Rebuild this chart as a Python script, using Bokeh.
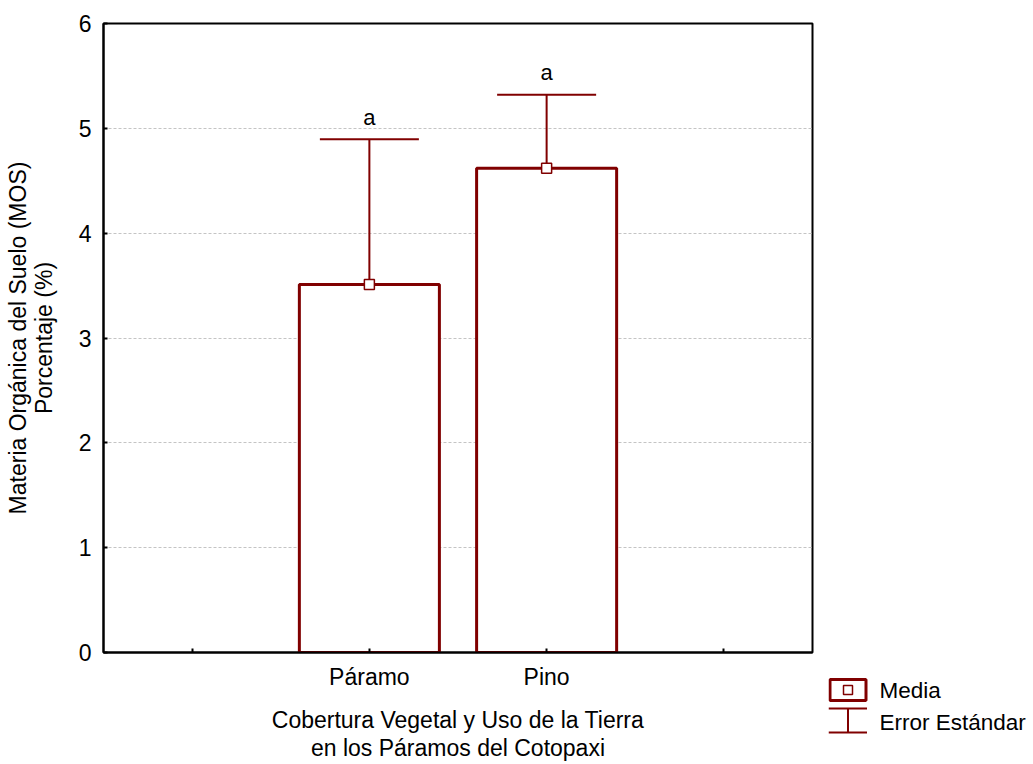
from bokeh.plotting import figure
from bokeh.models import ColumnDataSource, Whisker, TeeHead, FixedTicker, Range1d
from bokeh.layouts import row
from bokeh.embed import file_html
from bokeh.resources import INLINE
from bokeh.core.properties import value

# ---- data ----
categories = ["Páramo", "Pino"]
positions = [1, 2]
means = [3.51, 4.62]
std_errors = [1.385, 0.70]
letters = ["a", "a"]
y_ticks = [0, 1, 2, 3, 4, 5, 6]
x_ticks = [0, 1, 2, 3]
legend_labels = ["Media", "Error Estándar"]

DARK_RED = "#800000"
FONT = "Liberation Sans"

upper = [m + s for m, s in zip(means, std_errors)]
lower = [m - s for m, s in zip(means, std_errors)]
src = ColumnDataSource(dict(x=positions, mean=means, upper=upper, lower=lower,
                            letter=letters, cat=categories))

p = figure(width=828, height=764, x_range=Range1d(-0.5, 3.5), y_range=Range1d(0, 6),
           toolbar_location=None, output_backend="svg",
           min_border_left=103, min_border_right=16, min_border_top=23, min_border_bottom=112)
p.frame_align = False
p.background_fill_color = "white"
p.border_fill_color = "white"
p.outline_line_color = "black"
p.outline_line_width = 2

# bars
p.vbar(x="x", top="mean", bottom=0, width=0.79, source=src,
       fill_color="white", line_color=DARK_RED, line_width=3)

# error bars
head_u = TeeHead(size=99, line_color=DARK_RED, line_width=2)
head_l = TeeHead(size=99, line_color=DARK_RED, line_width=2)
p.add_layout(Whisker(source=src, base="x", upper="upper", lower="lower",
                     line_color=DARK_RED, line_width=2,
                     upper_head=head_u, lower_head=head_l))

# mean markers
p.scatter(x="x", y="mean", source=src, marker="square", size=10,
          fill_color="white", line_color=DARK_RED, line_width=1.5)

# letters
p.text(x="x", y="upper", text="letter", source=src, text_align="center",
       text_baseline="alphabetic", y_offset=-22, text_font=value(FONT),
       text_font_size="22px", text_color="black")

# axes
for ax in (p.xaxis[0], p.yaxis[0]):
    ax.axis_line_color = "black"
    ax.axis_line_width = 2
    ax.major_tick_line_color = "black"
    ax.major_tick_line_width = 2
    ax.major_tick_in = 4
    ax.major_tick_out = 0
    ax.minor_tick_line_color = None
    ax.major_label_text_font = FONT
    ax.major_label_text_font_size = "23px"
    ax.major_label_text_color = "black"
    ax.axis_label_text_font = FONT
    ax.axis_label_text_font_size = "23px"
    ax.axis_label_text_font_style = "normal"
    ax.axis_label_text_color = "black"

p.yaxis.ticker = FixedTicker(ticks=y_ticks)
p.yaxis.major_label_standoff = 12
p.yaxis.axis_label = "Materia Orgánica del Suelo (MOS)\nPorcentaje (%)"
p.yaxis.axis_label_standoff = 19
p.yaxis.axis_label_text_line_height = 1.0

p.xaxis.ticker = FixedTicker(ticks=x_ticks)
overrides = {t: "" for t in x_ticks}
for pos, cat in zip(positions, categories):
    overrides[pos] = cat
p.xaxis.major_label_standoff = 11
p.xaxis.major_label_overrides = overrides
p.xaxis.axis_label = "Cobertura Vegetal y Uso de la Tierra\nen los Páramos del Cotopaxi"
p.xaxis.axis_label_standoff = 14
p.xaxis.axis_label_text_line_height = 1.1

p.xgrid.grid_line_color = None
p.ygrid.ticker = FixedTicker(ticks=y_ticks[1:-1])
p.ygrid.grid_line_color = "#c4c4c4"
p.ygrid.grid_line_dash = "3 2"
p.ygrid.grid_line_width = 1

# ---- legend panel ----
lf = figure(width=205, height=764, x_range=Range1d(0, 205), y_range=Range1d(764, 0),
            toolbar_location=None, output_backend="svg", min_border=0,
            x_axis_location=None, y_axis_location=None)
lf.frame_align = False
lf.outline_line_color = None
lf.xgrid.grid_line_color = None
lf.ygrid.grid_line_color = None
lf.background_fill_color = "white"
lf.border_fill_color = "white"

sw_l, sw_r = 1.5, 37.5
sw_c = (sw_l + sw_r) / 2
lf.quad(left=[sw_l], right=[sw_r], top=[679], bottom=[700],
        fill_color="white", line_color=DARK_RED, line_width=3)
lf.scatter(x=[sw_c], y=[689.5], marker="square", size=9,
           fill_color="white", line_color=DARK_RED, line_width=1.5)
lf.segment(x0=[0, sw_c, 0], y0=[708, 708, 732], x1=[sw_r + 1, sw_c, sw_r + 1], y1=[708, 732, 732],
           line_color=DARK_RED, line_width=2)
lf.text(x=[51, 51], y=[690, 722], text=legend_labels, text_baseline="middle",
        text_align="left", text_font=value(FONT), text_font_size="22.5px", text_color="black")

layout = row(p, lf, spacing=0)
open("out.html", "w").write(file_html(layout, INLINE))
